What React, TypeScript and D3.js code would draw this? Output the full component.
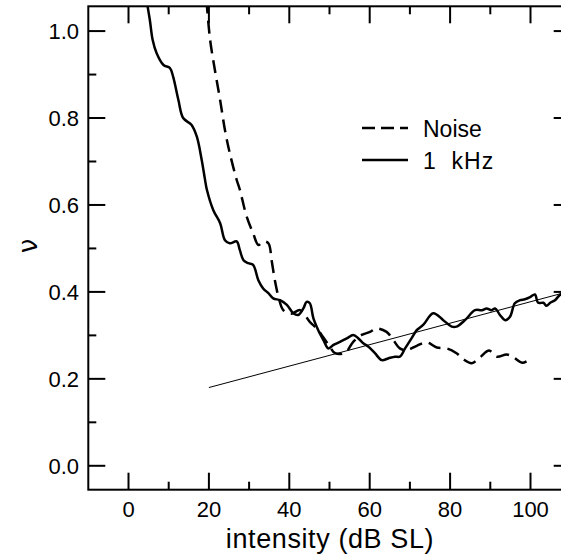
import React from "react";
import * as d3 from "d3";

const khzX = [4.5,5.3,6.0,7.0,8.7,10.3,11.1,12.4,13.6,15.7,17,18.2,19.0,19.5,21.1,22.8,24,25.2,26.9,27.7,28.6,29.8,31,32.3,33.5,34.8,36,37.7,39.4,41,42.2,43.5,44.3,45.1,46,47.2,48.5,49.7,51,52.6,54.3,55.9,57.2,58.4,59.7,61.3,63,64.6,66.3,67.5,68.8,70.4,71.7,73.3,75.8,78.3,80.4,81.6,83.7,86.2,87.9,89.1,90.3,91.2,92.4,93.7,94.9,96.1,97.4,98.6,99.9,101.1,101.9,103.2,104,104.9,106.1,107.3,108.5];
const khzY = [1.07,1.026,0.98,0.949,0.922,0.915,0.895,0.842,0.80,0.784,0.757,0.704,0.66,0.635,0.588,0.558,0.519,0.512,0.516,0.496,0.473,0.466,0.462,0.427,0.408,0.397,0.385,0.381,0.37,0.351,0.347,0.362,0.377,0.374,0.339,0.312,0.289,0.270,0.278,0.285,0.293,0.301,0.293,0.282,0.274,0.259,0.243,0.247,0.251,0.251,0.270,0.293,0.312,0.324,0.351,0.335,0.320,0.320,0.335,0.358,0.358,0.362,0.358,0.362,0.347,0.335,0.343,0.374,0.381,0.383,0.388,0.394,0.375,0.375,0.368,0.375,0.381,0.393,0.398];

const noiseX = [19.4,20.3,21.5,22.8,24,25.2,26.9,27.7,29.4,31,32.3,33.5,34.8,35.6,36.4,37.3,38.5,40.5,42.7,45.1,46.8,48.5,50,51.4,53.9,55.9,58,60.1,61.7,64.2,65.9,67.5,69.2,71.7,74.2,76.7,79.2,81.6,83.3,85.4,87.4,89.7,91.6,94.1,95.7,98,100.2];
const noiseY = [1.07,0.98,0.91,0.841,0.772,0.719,0.658,0.635,0.573,0.535,0.508,0.516,0.512,0.473,0.427,0.389,0.358,0.35,0.358,0.331,0.316,0.295,0.275,0.259,0.26,0.285,0.301,0.308,0.316,0.308,0.289,0.270,0.266,0.276,0.284,0.272,0.27,0.259,0.245,0.236,0.249,0.265,0.251,0.256,0.250,0.237,0.248];

const fitX = [20, 110];
const fitY = [0.18, 0.402];

const xMajor = [0, 20, 40, 60, 80, 100];
const xMinor = [10, 30, 50, 70, 90];
const yMajor = [0.0, 0.2, 0.4, 0.6, 0.8, 1.0];
const yMinor = [0.1, 0.3, 0.5, 0.7, 0.9];

const legendLabels = ["Noise", "1 kHz"];

export default function App() {
  const W = 561, H = 554;
  const x = d3.scaleLinear().domain([-10, 110]).range([88.3, 570.7]);
  const y = d3.scaleLinear().domain([-0.055, 1.057]).range([489.7, 6.3]);
  const [x0, x1] = x.range();
  const [yb, yt] = y.range();

  const line = d3.line<[number, number]>()
    .x(d => x(d[0]))
    .y(d => y(d[1]))
    .curve(d3.curveCatmullRom.alpha(0.5));
  const straight = d3.line<[number, number]>().x(d => x(d[0])).y(d => y(d[1]));

  const khz = khzX.map((v, i) => [v, khzY[i]] as [number, number]);
  const noise = noiseX.map((v, i) => [v, noiseY[i]] as [number, number]);
  const fit = fitX.map((v, i) => [v, fitY[i]] as [number, number]);

  const font = "'Liberation Sans', Arial, sans-serif";
  const majorLen = 17, minorLen = 8;

  return (
    <svg width={W} height={H} style={{ position: "absolute", left: 0, top: 0 }} fontFamily={font}>
      <defs>
        <clipPath id="plot">
          <rect x={x0} y={yt} width={x1 - x0} height={yb - yt} />
        </clipPath>
      </defs>
      <rect x={0} y={0} width={W} height={H} fill="#fff" />
      <g stroke="#000" strokeWidth={2} fill="none">
        <rect x={x0} y={yt} width={x1 - x0} height={yb - yt} />
        {xMajor.map(v => (
          <g key={"xM" + v}>
            <line x1={x(v)} x2={x(v)} y1={yb} y2={yb - majorLen} />
            <line x1={x(v)} x2={x(v)} y1={yt} y2={yt + majorLen} />
          </g>
        ))}
        {xMinor.map(v => (
          <g key={"xm" + v}>
            <line x1={x(v)} x2={x(v)} y1={yb} y2={yb - minorLen} />
            <line x1={x(v)} x2={x(v)} y1={yt} y2={yt + minorLen} />
          </g>
        ))}
        {yMajor.map(v => (
          <g key={"yM" + v}>
            <line x1={x0} x2={x0 + majorLen} y1={y(v)} y2={y(v)} />
            <line x1={x1} x2={x1 - majorLen} y1={y(v)} y2={y(v)} />
          </g>
        ))}
        {yMinor.map(v => (
          <g key={"ym" + v}>
            <line x1={x0} x2={x0 + minorLen} y1={y(v)} y2={y(v)} />
            <line x1={x1} x2={x1 - minorLen} y1={y(v)} y2={y(v)} />
          </g>
        ))}
      </g>
      <g fontSize={22} fill="#000">
        {xMajor.map(v => (
          <text key={"xl" + v} x={x(v)} y={517} textAnchor="middle">{d3.format("d")(v)}</text>
        ))}
        {yMajor.map(v => (
          <text key={"yl" + v} x={79} y={y(v) + 8} textAnchor="end">{d3.format(".1f")(v)}</text>
        ))}
      </g>
      <text x={330} y={548} textAnchor="middle" fontSize={27} letterSpacing={0.6}>intensity (dB SL)</text>
      <text transform="translate(37,246) rotate(-90)" textAnchor="middle" fontSize={26} fontFamily="'DejaVu Sans', sans-serif">ν</text>
      <g clipPath="url(#plot)" fill="none" stroke="#000">
        <path d={straight(fit) || ""} strokeWidth={1} />
        <path d={line(noise) || ""} strokeWidth={2.5} strokeDasharray="13 7" />
        <path d={line(khz) || ""} strokeWidth={2.5} />
      </g>
      <g>
        <line x1={362} x2={408} y1={128} y2={128} stroke="#000" strokeWidth={2.5} strokeDasharray="13 6" />
        <line x1={362} x2={408} y1={160} y2={160} stroke="#000" strokeWidth={2.5} />
        <text x={423} y={137} fontSize={23}>{legendLabels[0]}</text>
        <text x={423} y={169} fontSize={23} letterSpacing={1}>{legendLabels[1].replace(" ", "\u00a0\u00a0")}</text>
      </g>
    </svg>
  );
}
